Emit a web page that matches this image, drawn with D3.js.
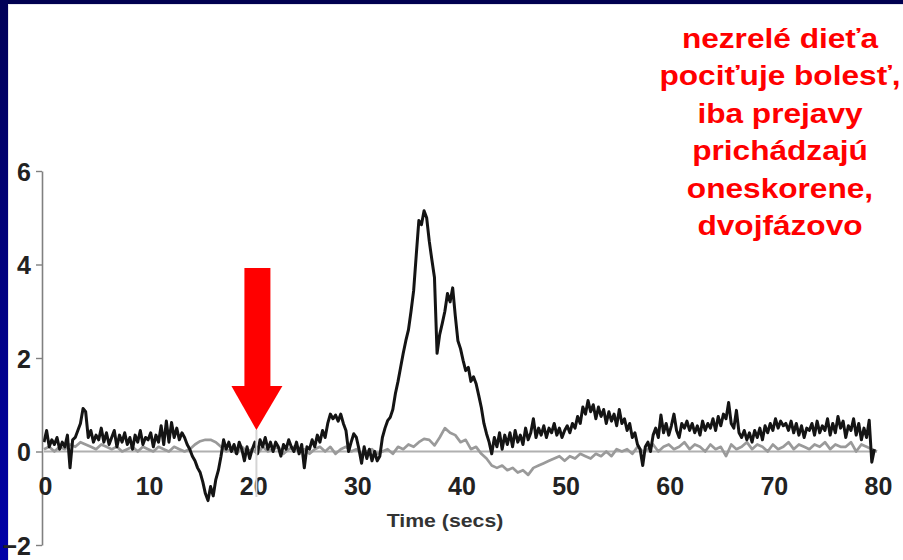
<!DOCTYPE html>
<html>
<head>
<meta charset="utf-8">
<script src="https://cdn.jsdelivr.net/npm/d3@7/dist/d3.min.js"></script>
<style>
  html, body { margin: 0; padding: 0; background: #000050; }
  svg { display: block; }
</style>
</head>
<body>
<svg id="chart" width="903" height="560"></svg>
<script>
// ---- data ----
const timeStep = 0.25; // seconds between samples of the stimulated trace
const stimulatedTrace = [
  0.2, 0.45, 0.1, 0.25,   0.15, 0.3, 0.05, 0.2,   0.1, 0.35, -0.35, 0.25,  0.3, 0.45, 0.6, 0.92,
  0.85, 0.3, 0.45, 0.2,   0.35, 0.25, 0.5, 0.2,   0.4, 0.15, 0.3, 0.45,    0.1, 0.35, 0.2, 0.4,
  0.15, 0.3, 0.05, 0.35,  0.2, 0.45, 0.15, 0.3,   0.25, 0.4, 0.1, 0.35,    0.2, 0.55, 0.15, 0.65,
  0.2, 0.62, 0.3, 0.5,    0.25, 0.4, 0.3, 0.15,   0.05, -0.1, -0.2, -0.35, -0.45, -0.65, -0.9, -1.05,
  -0.75, -0.95, -0.6, -0.4, -0.1, 0.25, 0.05, 0.2, 0.0, 0.15, -0.05, 0.2,  0.05, -0.2, 0.1, -0.15,
  0.05, 0.2, -0.05, 0.25, 0.1, 0.3, 0.05, 0.2,    0.0, 0.2, 0.1, -0.1,     0.15, 0.05, 0.25, 0.1,
  0.0, 0.2, -0.05, 0.15,  -0.35, 0.1, 0.05, 0.25, 0.1, 0.35, 0.2, 0.45,    0.3, 0.6, 0.8, 0.7,
  0.78, 0.65, 0.8, 0.6,   0.45, 0.0, 0.2, 0.38,   0.3, 0.05, -0.25, 0.1,   -0.15, 0.05, -0.2, 0.0,
  -0.2, -0.1, 0.3, 0.5,   0.66, 0.73, 0.9, 1.24,  1.5, 1.8, 2.1, 2.37,     2.6, 3.0, 3.44, 4.2,
  4.94, 4.85, 5.15, 5.0,  4.5, 4.1, 3.72, 2.1,    2.5, 2.74, 3.0, 3.38,    3.2, 3.5, 2.9, 2.37,
  2.2, 1.95, 1.73, 1.8,   1.5, 1.6, 1.45, 1.2,    0.94, 0.6, 0.38, 0.2,    -0.05, 0.3, 0.1, 0.4,
  0.05, 0.35, 0.15, 0.4,  0.1, 0.45, 0.2, 0.35,   0.15, 0.5, 0.25, 0.4,    0.7, 0.3, 0.5, 0.35,
  0.55, 0.3, 0.5, 0.4,    0.6, 0.35, 0.5, 0.3,    0.45, 0.55, 0.4, 0.6,    0.5, 0.75, 0.6, 0.95,
  0.8, 1.09, 0.85, 1.0,   0.7, 0.95, 0.75, 0.9,   0.6, 0.85, 0.65, 0.8,    0.55, 0.9, 0.6, 0.7,
  0.45, 0.6, 0.3, 0.4,    0.15, 0.05, -0.3, 0.1,  0.2, 0.0, 0.35, 0.5,     0.3, 0.78, 0.4, 0.6,
  0.35, 0.55, 0.8, 0.45,  0.3, 0.6, 0.5, 0.65,    0.45, 0.6, 0.4, 0.55,    0.35, 0.65, 0.45, 0.6,
  0.5, 0.7, 0.45, 0.75,   0.55, 0.8, 0.7, 1.05,   0.6, 0.5, 0.88, 0.4,     0.3, 0.45, 0.25, 0.4,
  0.2, 0.45, 0.3, 0.5,    0.25, 0.55, 0.4, 0.6,   0.45, 0.7, 0.5, 0.65,    0.55, 0.6, 0.45, 0.65,
  0.4, 0.6, 0.35, 0.55,   0.3, 0.5, 0.45, 0.6,    0.35, 0.65, 0.4, 0.55,   0.45, 0.7, 0.35, 0.6,
  0.4, 0.75, 0.5, 0.65,   0.3, 0.55, 0.45, 0.7,   0.35, 0.6, 0.25, 0.5,    0.3, 0.67, -0.23, 0.05
];
const controlStep = 0.5; // seconds between samples of the control trace
const controlTrace = [
  0.05, 0.1, 0.0, 0.1, 0.05, 0.15, 0.1, 0.2, 0.15, 0.1, 0.05, 0.15, 0.1, 0.05, 0.1, 0.0,
  0.05, 0.1, 0.0, 0.1, 0.05, 0.0, 0.1, 0.05, 0.0, 0.1, 0.05, 0.0, 0.05, 0.15, 0.22, 0.25,
  0.25, 0.2, 0.1, 0.0, 0.05, -0.05, 0.1, 0.0, 0.05, -0.05, 0.1, 0.0, 0.05, 0.1, -0.05, 0.05,
  0.1, 0.0, 0.05, -0.05, 0.05, 0.1, 0.0, 0.1, -0.05, 0.05, 0.1, 0.0, 0.05, -0.05, 0.0, 0.05,
  -0.05, 0.0, 0.05, -0.05, 0.1, 0.05, 0.15, 0.1, 0.2, 0.27, 0.25, 0.13, 0.3, 0.5, 0.4, 0.35,
  0.2, 0.25, 0.05, 0.1, -0.05, -0.15, -0.3, -0.35, -0.3, -0.4, -0.35, -0.45, -0.4, -0.5, -0.35, -0.3,
  -0.25, -0.2, -0.15, -0.1, -0.2, -0.1, -0.15, -0.05, -0.1, -0.15, -0.05, -0.1, 0.0, -0.1, 0.05, 0.0,
  0.05, -0.05, 0.1, 0.0, 0.05, 0.15, 0.0, 0.1, 0.15, 0.05, 0.1, 0.2, 0.05, 0.15, 0.1, 0.0,
  0.15, 0.05, 0.1, -0.1, 0.15, 0.05, 0.1, 0.2, 0.05, 0.15, 0.1, 0.0, 0.15, 0.05, 0.1, 0.2,
  0.05, 0.15, 0.1, 0.05, 0.15, 0.1, 0.2, 0.05, 0.15, 0.1, 0.1, 0.2, 0.0, 0.15, 0.1, 0.05, 0.0
];
const xTicks = [0, 10, 20, 30, 40, 50, 60, 70, 80];
const yTicks = [-2, 0, 2, 4, 6];
const xLabel = "Time (secs)";
const stimulusTime = 20.4;
const noteLines = ["nezrelé dieťa", "pociťuje bolesť,", "iba prejavy", "prichádzajú", "oneskorene,", "dvojfázovo"];

// ---- drawing ----
const svg = d3.select("#chart");
const defs = svg.append("defs");
const grad = defs.append("linearGradient").attr("id", "side").attr("x1", 0).attr("y1", 0).attr("x2", 0).attr("y2", 1);
grad.append("stop").attr("offset", "0%").attr("stop-color", "#000058");
grad.append("stop").attr("offset", "100%").attr("stop-color", "#0000a8");

svg.append("rect").attr("x", 0).attr("y", 0).attr("width", 903).attr("height", 560).attr("fill", "#000050");
svg.append("rect").attr("x", 0).attr("y", 0).attr("width", 8).attr("height", 560).attr("fill", "url(#side)");
svg.append("rect").attr("x", 8).attr("y", 4).attr("width", 895).attr("height", 556).attr("fill", "#e6e6ee");
svg.append("rect").attr("x", 9).attr("y", 5).attr("width", 894).attr("height", 555).attr("fill", "#ffffff");

const x = d3.scaleLinear().domain([0, 80]).range([44, 877]);
const y = d3.scaleLinear().domain([-2, 6]).range([545, 171]);
const font = "'Liberation Sans', Arial, sans-serif";

// zero reference line
svg.append("line")
  .attr("x1", x(0)).attr("x2", x(80)).attr("y1", y(0)).attr("y2", y(0))
  .attr("stroke", "#b0b0b0").attr("stroke-width", 2);

const line = d3.line().x(d => x(d.t)).y(d => y(d.v));
const ctrl = controlTrace.map((v, i) => ({ t: i * controlStep, v }));
const stim = stimulatedTrace.map((v, i) => ({ t: i * timeStep, v }));

svg.append("path").datum(ctrl).attr("d", line)
  .attr("fill", "none").attr("stroke", "#9a9a9a").attr("stroke-width", 2.7).attr("stroke-linejoin", "round");
svg.append("path").datum(stim).attr("d", line)
  .attr("fill", "none").attr("stroke", "#141414").attr("stroke-width", 3).attr("stroke-linejoin", "round");

// y axis
const yAxis = svg.append("g").attr("transform", `translate(${x(0) - 2},0)`)
  .call(d3.axisLeft(y).tickValues(yTicks).tickSize(6).tickSizeOuter(0).tickPadding(5).tickFormat(d3.format("d")));
yAxis.select(".domain").attr("stroke", "#808080").attr("stroke-width", 1.6);
yAxis.selectAll(".tick line").attr("stroke", "#808080").attr("stroke-width", 1.4);
yAxis.selectAll("text").attr("font-family", font).attr("font-weight", "bold").attr("font-size", 25)
  .attr("fill", "#222").attr("dy", "0.36em");

// x axis labels
const xAxis = svg.append("g").attr("transform", `translate(0,${y(0)})`)
  .call(d3.axisBottom(x).tickValues(xTicks).tickSize(0).tickPadding(26).tickFormat(d3.format("d")));
xAxis.select(".domain").remove();
xAxis.selectAll("text").attr("font-family", font).attr("font-weight", "bold").attr("font-size", 25)
  .attr("fill", "#222").attr("dx", 1);

svg.append("text").attr("transform", "translate(445,527) scale(1.12,1)").attr("text-anchor", "middle")
  .attr("font-family", font).attr("font-weight", "bold").attr("font-size", 19).attr("fill", "#333")
  .text(xLabel);

// stimulus marker and arrow
const tipX = x(stimulusTime), tipY = y(0.46);
svg.append("line").attr("x1", tipX).attr("x2", tipX).attr("y1", tipY).attr("y2", tipY + 67)
  .attr("stroke", "#d4d4d4").attr("stroke-width", 2);
svg.append("rect").attr("x", tipX - 12).attr("y", tipY - 162).attr("width", 26).attr("height", 120).attr("fill", "#ff0000");
svg.append("path")
  .attr("d", `M${tipX - 25},${tipY - 44} L${tipX + 26},${tipY - 44} L${tipX},${tipY} Z`)
  .attr("fill", "#ff0000");

// note text
const note = svg.append("g");
noteLines.forEach((s, i) => {
  note.append("text")
    .attr("transform", `translate(780,${47.5 + i * 37.5}) scale(1.13,1)`)
    .attr("text-anchor", "middle")
    .attr("font-family", font).attr("font-weight", "bold").attr("font-size", 28)
    .attr("fill", "#ff0000").text(s);
});
</script>
</body>
</html>
